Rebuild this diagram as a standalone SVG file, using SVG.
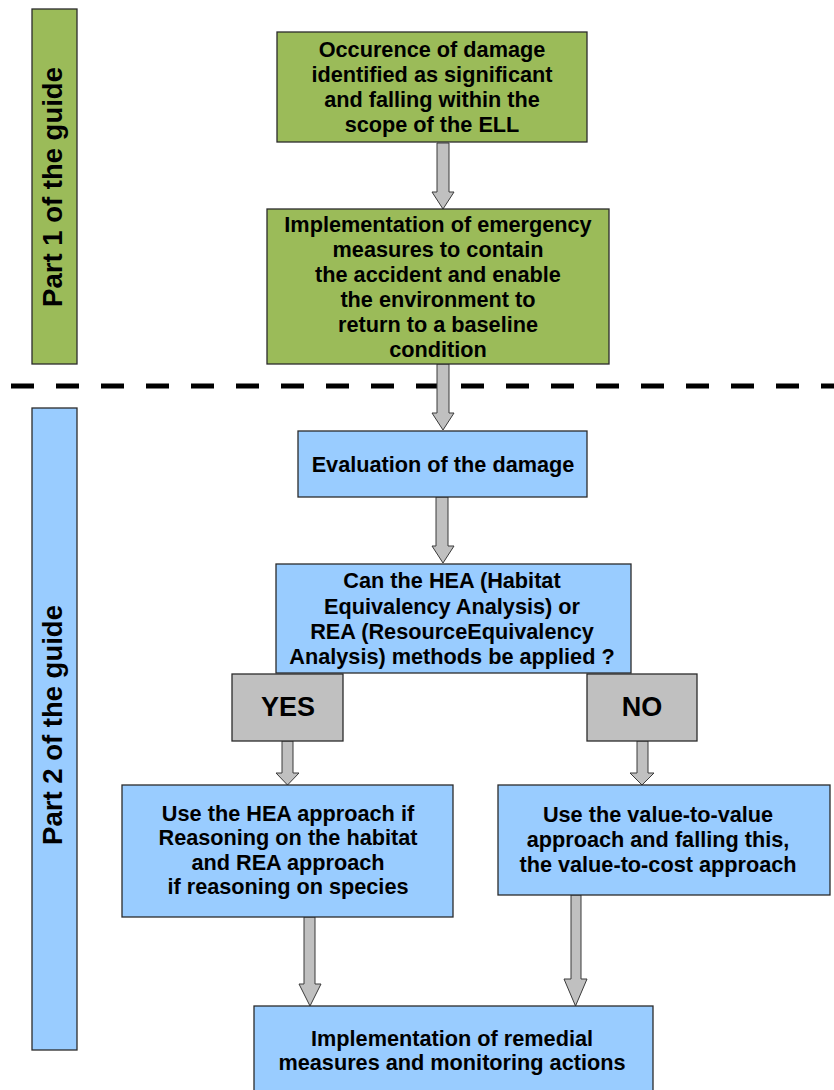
<svg xmlns="http://www.w3.org/2000/svg" width="834" height="1090" viewBox="0 0 834 1090">
  <style>
    text { font-family: "Liberation Sans", Arial, sans-serif; font-weight: bold; fill: #000; text-anchor: middle; }
    .t { font-size: 21.7px; }
    .big { font-size: 27px; }
    .side { font-size: 27.5px; }
    .green { fill: #9BBB59; stroke: #2b2b2b; stroke-width: 1.3; }
    .blue { fill: #99CCFF; stroke: #2b2b2b; stroke-width: 1.3; }
    .grey { fill: #C0C0C0; stroke: #2b2b2b; stroke-width: 1.3; }
    .arrow { fill: #C0C0C0; stroke: #3a3a3a; stroke-width: 1; stroke-linejoin: miter; }
    .divider { stroke: #000; stroke-width: 5; stroke-dasharray: 23 22; fill: none; }
  </style>

  <!-- section labels -->
  <g id="part1">
    <rect class="green" x="32" y="9" width="45" height="355"/>
    <text class="side" transform="translate(62,187) rotate(-90)">Part 1 of the guide</text>
  </g>
  <g id="part2">
    <rect class="blue" x="32" y="408" width="45" height="642"/>
    <text class="side" transform="translate(62,725) rotate(-90)">Part 2 of the guide</text>
  </g>

  <!-- boundary between the two parts -->
  <line class="divider" x1="11" y1="386" x2="834" y2="386"/>

  <!-- connectors -->
  <g id="connectors">
    <path class="arrow" d="M437,143 H449 V192 H454 L443,209 L432,192 H437 Z"/>
    <path class="arrow" d="M437,364 H449 V413 H454 L443,430 L432,413 H437 Z"/>
    <path class="arrow" d="M436,497 H448 V546 H454 L443,563 L432,546 H436 Z"/>
    <path class="arrow" d="M282,741 H293 V773 H299 L287.5,785 L276,773 H282 Z"/>
    <path class="arrow" d="M637,741 H648 V773 H654 L642,785 L630,773 H637 Z"/>
    <path class="arrow" d="M304,917 H315 V984 H321 L310,1006 L299,984 H304 Z"/>
    <path class="arrow" d="M571,895 H581 V979 H587 L575.5,1006 L564,979 H571 Z"/>
  </g>

  <g id="occurrence">
    <rect class="green" x="277" y="32" width="310" height="110"/>
    <text class="t" x="432" y="57">Occurence of damage</text>
    <text class="t" x="432" y="82">identified as significant</text>
    <text class="t" x="432" y="107">and falling within the</text>
    <text class="t" x="432" y="132">scope of the ELL</text>
  </g>

  <g id="emergency">
    <rect class="green" x="267" y="209" width="342" height="155"/>
    <text class="t" x="438" y="232">Implementation of emergency</text>
    <text class="t" x="438" y="257">measures to contain</text>
    <text class="t" x="438" y="282">the accident and enable</text>
    <text class="t" x="438" y="307">the environment to</text>
    <text class="t" x="438" y="332">return to a baseline</text>
    <text class="t" x="438" y="357">condition</text>
  </g>

  <g id="evaluation">
    <rect class="blue" x="298" y="431" width="289" height="66"/>
    <text class="t" x="443" y="472">Evaluation of the damage</text>
  </g>

  <g id="question">
    <rect class="blue" x="276" y="564" width="355" height="109"/>
    <text class="t" x="452" y="588">Can the HEA (Habitat</text>
    <text class="t" x="452" y="614">Equivalency Analysis) or</text>
    <text class="t" x="452" y="639">REA (ResourceEquivalency</text>
    <text class="t" x="452" y="664">Analysis) methods be applied ?</text>
  </g>

  <g id="yes">
    <rect class="grey" x="232" y="674" width="111" height="67"/>
    <text class="big" x="288" y="716">YES</text>
  </g>

  <g id="no">
    <rect class="grey" x="587" y="674" width="110" height="67"/>
    <text class="big" x="642" y="716">NO</text>
  </g>

  <g id="hea-rea">
    <rect class="blue" x="122" y="785" width="331" height="132"/>
    <text class="t" x="288" y="821">Use the HEA approach if</text>
    <text class="t" x="288" y="845">Reasoning on the habitat</text>
    <text class="t" x="288" y="870">and REA approach</text>
    <text class="t" x="288" y="894">if reasoning on species</text>
  </g>

  <g id="value">
    <rect class="blue" x="498" y="785" width="332" height="110"/>
    <text class="t" x="658" y="822">Use the value-to-value</text>
    <text class="t" x="658" y="847">approach and falling this,</text>
    <text class="t" x="658" y="872">the value-to-cost approach</text>
  </g>

  <g id="remedial">
    <rect class="blue" x="254" y="1006" width="399" height="90"/>
    <text class="t" x="452" y="1046">Implementation of remedial</text>
    <text class="t" x="452" y="1070">measures and monitoring actions</text>
  </g>
</svg>
